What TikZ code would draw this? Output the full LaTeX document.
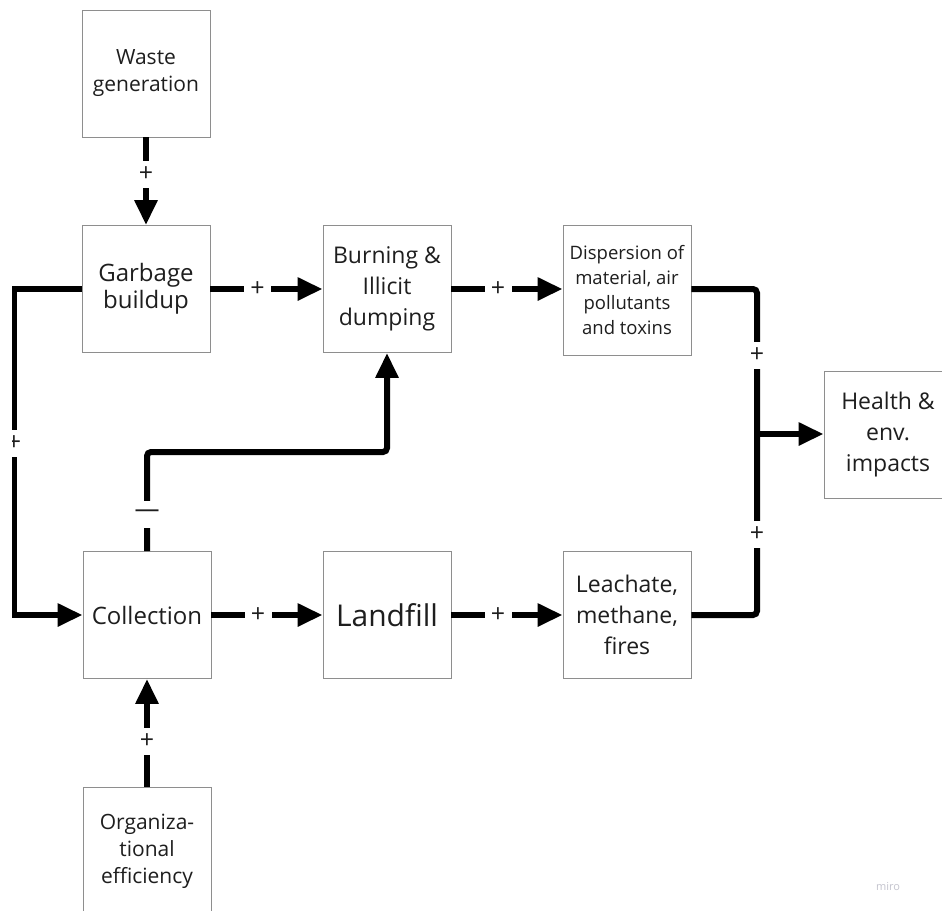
\documentclass[tikz,border=0pt]{standalone}
\usepackage{fontspec}
\setmainfont{Open Sans}
\usetikzlibrary{arrows.meta}
\definecolor{boxline}{HTML}{8E8E8E}
\definecolor{ink}{HTML}{1E1E1E}
\definecolor{wmark}{HTML}{C4C4CE}
\tikzset{
  box/.style={draw=boxline, line width=0.9pt, minimum width=128pt, minimum height=127pt,
    inner sep=0pt, align=center, text=ink},
  conn/.style={line width=6pt, draw=black},
  tip/.style={-{Triangle[length=25pt,width=22pt]}},
  lbl/.style={fill=white, minimum width=27pt, minimum height=27pt, inner sep=0pt,
    text=ink, font=\fontsize{25}{25}\selectfont},
  fsA/.style={font=\fontsize{21}{27}\selectfont},
  fsB/.style={font=\fontsize{24}{27}\selectfont},
  fsC/.style={font=\fontsize{23}{31}\selectfont},
  fsD/.style={font=\fontsize{18.5}{25}\selectfont},
  fsE/.style={font=\fontsize{30}{36}\selectfont},
}
\begin{document}
\begin{tikzpicture}[x=1pt, y=-1pt]
\useasboundingbox (0,0) rectangle (942,910);
\fill[white] (0,0) rectangle (942,910);
\clip (12,0) rectangle (942,910);

% boxes
\node[box, fsA] (waste)    at (146,73.5) {Waste\\generation};
\node[box, fsB] (garbage)  at (146,289)  {Garbage\\buildup};
\node[box, fsC] (burn)     at (387,289)  {Burning \&\\Illicit\\dumping};
\node[box, fsD, minimum height=130pt] (disp) at (627,290.5) {Dispersion of\\material, air\\pollutants\\and toxins};
\node[box, fsC] (health)   at (888,435)  {Health \&\\env.\\impacts};
\node[box, fsB] (coll)     at (147,615)  {Collection};
\node[box, fsE] (landfill) at (387,615)  {Landfill};
\node[box, fsC] (leach)    at (627,615)  {Leachate,\\methane,\\fires};
\node[box, fsA, minimum height=128pt] (org) at (147,851) {Organiza-\\tional\\efficiency};

% bend points
\coordinate (lt) at (14,289);
\coordinate (lb) at (14,615);
\coordinate (ca) at (147,452);
\coordinate (cb) at (387,452);
\coordinate (rt) at (757,289);
\coordinate (rb) at (757,615);
\coordinate (j)  at (757,434);

% straight links
\draw[conn, tip] (waste) -- node[pos=0.42, lbl] {+} (garbage);
\draw[conn, tip] (garbage) -- node[pos=0.42, lbl] {+} (burn);
\draw[conn, tip] (burn.east |- rt) -- node[pos=0.42, lbl] {+} (disp.west |- rt);
\draw[conn, tip] (coll) -- node[pos=0.42, lbl] {+} (landfill);
\draw[conn, tip] (landfill) -- node[pos=0.42, lbl] {+} (leach);
\draw[conn, tip] (org) -- node[pos=0.42, lbl] {+} (coll);

% garbage buildup feeds collection
\draw[conn, tip] (garbage.west) -- (lt) -- (lb) -- (coll.west);
\node[lbl] (lloop) at (14,443) {+};

% collection reduces burning and dumping
\draw[conn, tip, rounded corners=4pt] (coll.north) -- (ca) -- (cb) -- (burn.south);
\node[lbl, font=\fontsize{25}{25}\selectfont] (lneg) at (147,514) {—};

% both pathways into impacts
\draw[conn, rounded corners=4pt] (disp.east |- rt) -- (rt) -- (rb) -- (leach.east);
\draw[conn, tip] (j) -- (j -| health.west);
\node[lbl] (lup) at (757,355) {+};
\node[lbl] (ldn) at (757,534) {+};

\node[text=wmark, font=\fontsize{11}{11}\selectfont] (mark) at (888,887) {miro};
\end{tikzpicture}
\end{document}
